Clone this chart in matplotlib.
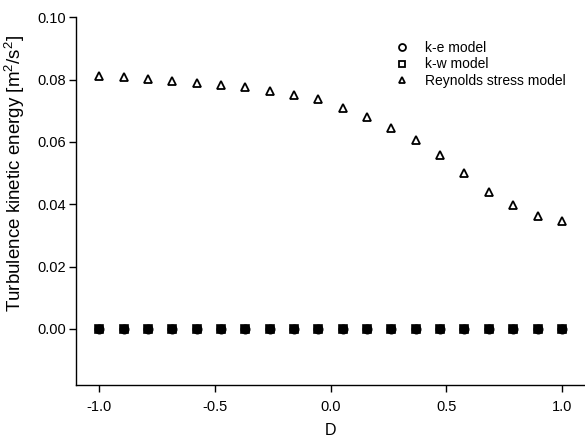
import numpy as np
import matplotlib
matplotlib.use("Agg")
import matplotlib.pyplot as plt
from matplotlib.lines import Line2D

plt.rcParams['font.family'] = ['Liberation Sans', 'DejaVu Sans']
plt.rcParams['mathtext.fontset'] = 'custom'
plt.rcParams['mathtext.rm'] = 'Liberation Sans'

D = np.linspace(-1.0, 1.0, 20)
ke = [0.0] * 20
kw = [0.0] * 20
rsm = [0.0812, 0.0809, 0.0802, 0.0795, 0.0788, 0.0782, 0.0777, 0.0764, 0.0750, 0.0736,
       0.0707, 0.0679, 0.0645, 0.0606, 0.0558, 0.0499, 0.0440, 0.0397, 0.0363, 0.0347]

labels = ["k-e model", "k-w model", "Reynolds stress model"]

fig = plt.figure(figsize=(5.85, 4.4), dpi=100)
ax = fig.add_axes([0.130, 0.125, 0.87, 0.836])

ax.plot(D, ke, linestyle='none', marker='o', ms=6, mfc='black', mec='black', mew=1.2)
ax.plot(D, kw, linestyle='none', marker='s', ms=5.5, mfc='black', mec='black', mew=1.2)
ax.plot(D, rsm, linestyle='none', marker='^', ms=5.5, mfc='white', mec='black', mew=1.3)

ax.set_xlim(-1.1, 1.1)
ax.set_ylim(-0.018, 0.10)
ax.set_xticks([-1.0, -0.5, 0.0, 0.5, 1.0])
ax.set_xticklabels(["-1.0", "-0.5", "0.0", "0.5", "1.0"])
ax.set_yticks([0.0, 0.02, 0.04, 0.06, 0.08, 0.10])
ax.set_yticklabels(["0.00", "0.02", "0.04", "0.06", "0.08", "0.10"])
ax.tick_params(direction='out', length=5, width=1, labelsize=10.5)
ax.tick_params(axis='y', pad=2)
ax.tick_params(axis='x', pad=6)
for s in ['top', 'right']:
    ax.spines[s].set_visible(False)
for s in ['left', 'bottom']:
    ax.spines[s].set_linewidth(1)

ax.set_xlabel("D", fontsize=11.5, labelpad=6)
ax.set_ylabel("Turbulence kinetic energy [m$^2$/s$^2$]", fontsize=13.5)
ax.yaxis.set_label_coords(-0.096, 0.576)

handles = [
    Line2D([], [], linestyle='none', marker='o', ms=5, mfc='white', mec='black', mew=1.3),
    Line2D([], [], linestyle='none', marker='s', ms=4.5, mfc='white', mec='black', mew=1.3),
    Line2D([], [], linestyle='none', marker='^', ms=5, mfc='white', mec='black', mew=1.3),
]
ax.legend(handles, labels, loc='upper left', bbox_to_anchor=(0.595, 0.97), frameon=False,
          fontsize=10, handletextpad=0.9, labelspacing=0.2, handlelength=1.5)

fig.savefig("out.png", dpi=100)
